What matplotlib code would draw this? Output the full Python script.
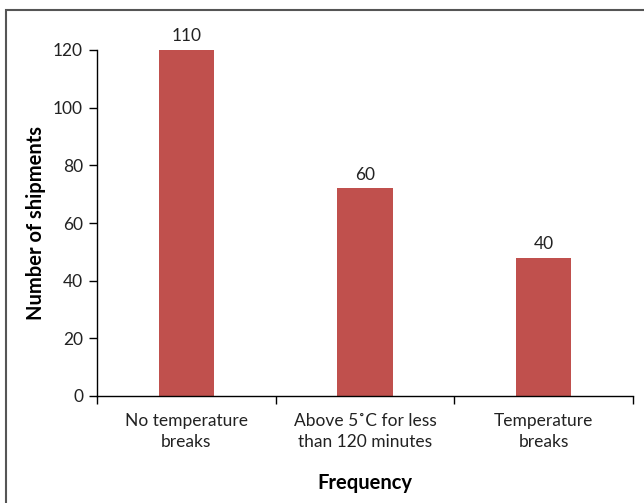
import numpy as np
import matplotlib.pyplot as plt
from matplotlib.patches import Rectangle

#==========================================================
# data
#==========================================================
categories = ['No temperature\nbreaks', 'Above 5˚C for less\nthan 120 minutes', 'Temperature\nbreaks']
bar_heights = [120, 72, 48]
bar_labels = ['110', '60', '40']
y_ticks = [0, 20, 40, 60, 80, 100, 120]

#==========================================================
# plot
#==========================================================
plt.rcParams['font.family'] = ['Lato', 'DejaVu Sans']
fig = plt.figure(figsize=(6.44, 5.03), dpi=100)
ax = fig.add_axes([97/644, 1-396/503, (633-97)/644, (396-50)/503])

x = np.arange(len(categories))
bars = ax.bar(x, bar_heights, width=0.31, color='#C0504D')

for b, lab in zip(bars, bar_labels):
    ax.annotate(lab, (b.get_x()+b.get_width()/2, b.get_height()), xytext=(0, 4),
                textcoords='offset points', ha='center', va='bottom', fontsize=12.5, color='#222222')

ax.set_xlim(-0.5, len(categories)-0.5)
ax.set_ylim(0, 120)
ax.set_yticks(y_ticks)
ax.set_xticks(x)
ax.set_xticklabels(categories, fontsize=12.5, color='#222222', linespacing=1.4)
ax.set_xticks(np.arange(-0.5, len(categories), 1), minor=True)
ax.tick_params(axis='x', which='major', length=0, pad=12)
ax.tick_params(axis='x', which='minor', length=6, width=1, direction='out')
ax.tick_params(axis='y', labelsize=12.5, length=6, width=1, labelcolor='#222222', pad=4)

for s in ['top', 'right']:
    ax.spines[s].set_visible(False)
for s in ['left', 'bottom']:
    ax.spines[s].set_linewidth(1)

ax.set_ylabel('Number of shipments', fontsize=14.5, weight='bold', labelpad=5)
ax.set_xlabel('Frequency', fontsize=14.5, weight='bold', labelpad=17)

# outer frame
fig.patches.append(Rectangle((6/644, -0.1), 1.2, 1.1-10/503, transform=fig.transFigure,
                             fill=False, edgecolor='#555555', linewidth=1.5))

plt.savefig('out.png', dpi=100)
plt.close()
